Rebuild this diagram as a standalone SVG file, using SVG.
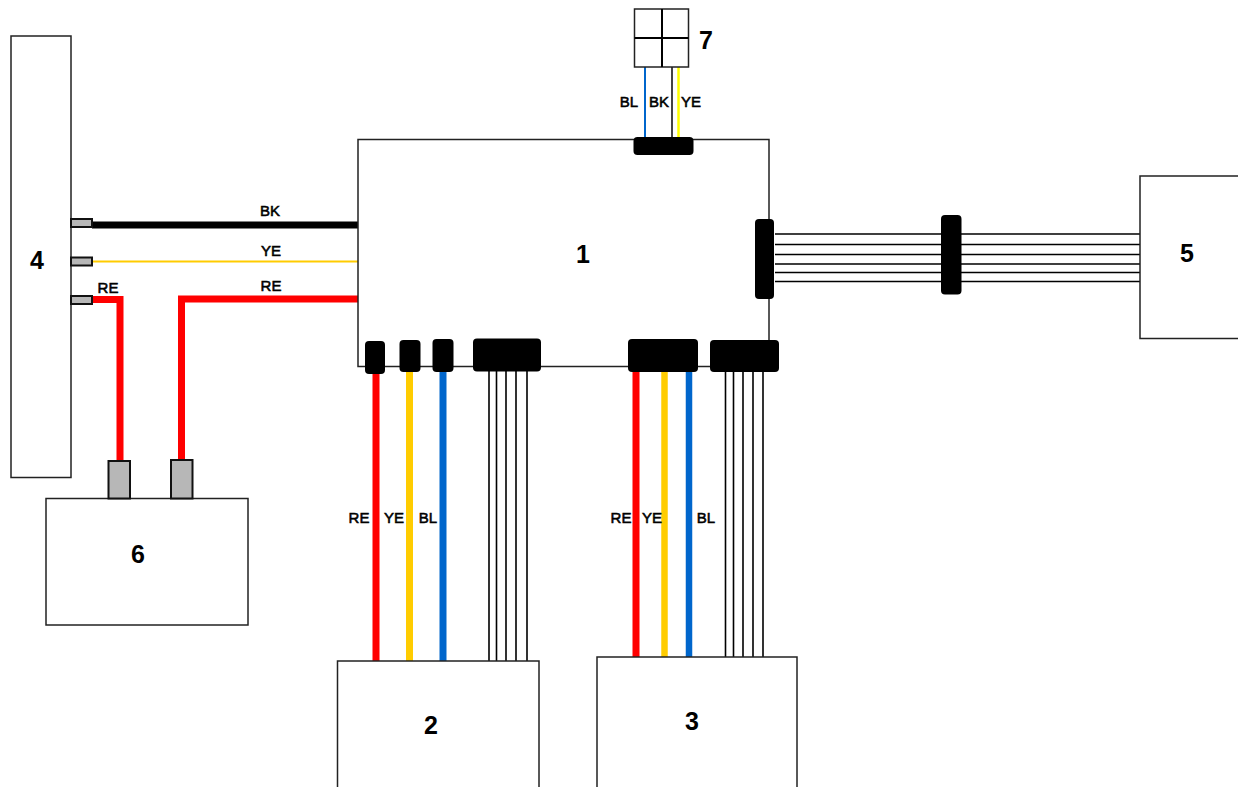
<svg xmlns="http://www.w3.org/2000/svg" width="1238" height="787" viewBox="0 0 1238 787">
<style>
.box{fill:#fff;stroke:#222;stroke-width:1.5}
.conn{fill:#000;stroke:none}
.pin{fill:#b7b7b7;stroke:#111;stroke-width:2}
.pinb{fill:#b7b7b7;stroke:#111;stroke-width:2}
.num{font-family:"Liberation Sans",Arial,sans-serif;font-weight:bold;font-size:25px;fill:#000;text-anchor:middle}
.lab{font-family:"Liberation Sans",Arial,sans-serif;font-size:15px;fill:#000;stroke:#000;stroke-width:.55;text-anchor:middle}
.w{fill:none;stroke:#000;stroke-width:1.6}
.re{fill:none;stroke:#f00;stroke-width:7}
.yw{fill:none;stroke:#fc0;stroke-width:7}
.bl{fill:none;stroke:#06c;stroke-width:7}
</style>
<rect width="1238" height="787" fill="#fff"/>
<g id="connectors">
<path d="M92 225H358" fill="none" stroke="#000" stroke-width="7"/>
<path d="M92 261.500H358" fill="none" stroke="#fc0" stroke-width="2"/>
<path d="M92 299.500H120V462" class="re"/>
<path d="M358 299H181.500V460" class="re"/>
<path d="M376 370V661" class="re"/>
<path d="M409.500 370V661" class="yw"/>
<path d="M443 370V661" class="bl"/>
<path d="M489 370V661M496.500 370V661M506 370V661M516 370V661M527 370V661" class="w"/>
<path d="M636 368V657" class="re"/>
<path d="M664.500 368V657" stroke="#fc0" stroke-width="6.500" fill="none"/>
<path d="M689 368V657" stroke="#06c" stroke-width="6.500" fill="none"/>
<path d="M725.500 370V657M733.500 370V657M743 370V657M753 370V657M763 370V657" class="w"/>
<path d="M775 234H1140M775 244.500H1140M775 254.500H1140M775 264H1140M775 272.500H1140M775 281.500H1140" class="w"/>
<path d="M645 67V140" stroke="#06c" stroke-width="2" fill="none"/>
<path d="M672 67V140" stroke="#444" stroke-width="2" fill="none"/>
<path d="M678.500 67V140" stroke="#ff0" stroke-width="2.500" fill="none"/>
</g>
<g id="node-1">
<rect class="box" x="358" y="139.500" width="411" height="227"/>
<text class="num" x="583" y="263">1</text>
<rect class="conn" x="365" y="341" width="20" height="33" rx="4"/>
<rect class="conn" x="399.500" y="340" width="21" height="32" rx="4"/>
<rect class="conn" x="432.500" y="339" width="21" height="33" rx="4"/>
<rect class="conn" x="473" y="338.500" width="68" height="33" rx="4"/>
<rect class="conn" x="628" y="339" width="70" height="33" rx="4"/>
<rect class="conn" x="710" y="340" width="69" height="32" rx="4"/>
<rect class="conn" x="755" y="219" width="19" height="80" rx="4"/>
<rect class="conn" x="633.500" y="137" width="60" height="18" rx="4"/>
</g>
<g id="node-2">
<rect class="box" x="337.500" y="661" width="201.500" height="130"/>
<text class="num" x="431" y="734">2</text>
</g>
<g id="node-3">
<rect class="box" x="597" y="657" width="200" height="134"/>
<text class="num" x="692" y="730">3</text>
</g>
<g id="node-4">
<rect class="box" x="11" y="36" width="60" height="441.500"/>
<text class="num" x="37" y="269">4</text>
<rect class="pin" x="71" y="219" width="21" height="8"/>
<rect class="pin" x="71" y="257.500" width="21" height="8"/>
<rect class="pin" x="71" y="296" width="21" height="8"/>
</g>
<g id="node-5">
<rect class="box" x="1140" y="176" width="101" height="162.500"/>
<text class="num" x="1187" y="262">5</text>
</g>
<g id="splice">
<rect class="conn" x="941" y="215" width="20.500" height="79.500" rx="4"/>
</g>
<g id="node-6">
<rect class="box" x="46" y="498.500" width="202" height="126.500"/>
<text class="num" x="138" y="563">6</text>
<rect class="pinb" x="108.500" y="461" width="21.500" height="37.500"/>
<rect class="pinb" x="171" y="460" width="21.500" height="38.500"/>
</g>
<g id="node-7">
<rect x="634.500" y="9" width="54" height="58" fill="#fff" stroke="#222" stroke-width="1.500"/>
<path d="M662 9V67M634.500 38H688.500" fill="none" stroke="#000" stroke-width="2"/>
<text class="num" x="706" y="49">7</text>
</g>
<g id="labels">
<text class="lab" x="270" y="216">BK</text>
<text class="lab" x="271" y="256">YE</text>
<text class="lab" x="271" y="291">RE</text>
<text class="lab" x="108" y="293">RE</text>
<text class="lab" x="629" y="107">BL</text>
<text class="lab" x="659" y="107">BK</text>
<text class="lab" x="691" y="107">YE</text>
<text class="lab" x="359" y="523">RE</text>
<text class="lab" x="394" y="523">YE</text>
<text class="lab" x="428" y="523">BL</text>
<text class="lab" x="621" y="523">RE</text>
<text class="lab" x="652" y="523">YE</text>
<text class="lab" x="706" y="523">BL</text>
</g>
</svg>
